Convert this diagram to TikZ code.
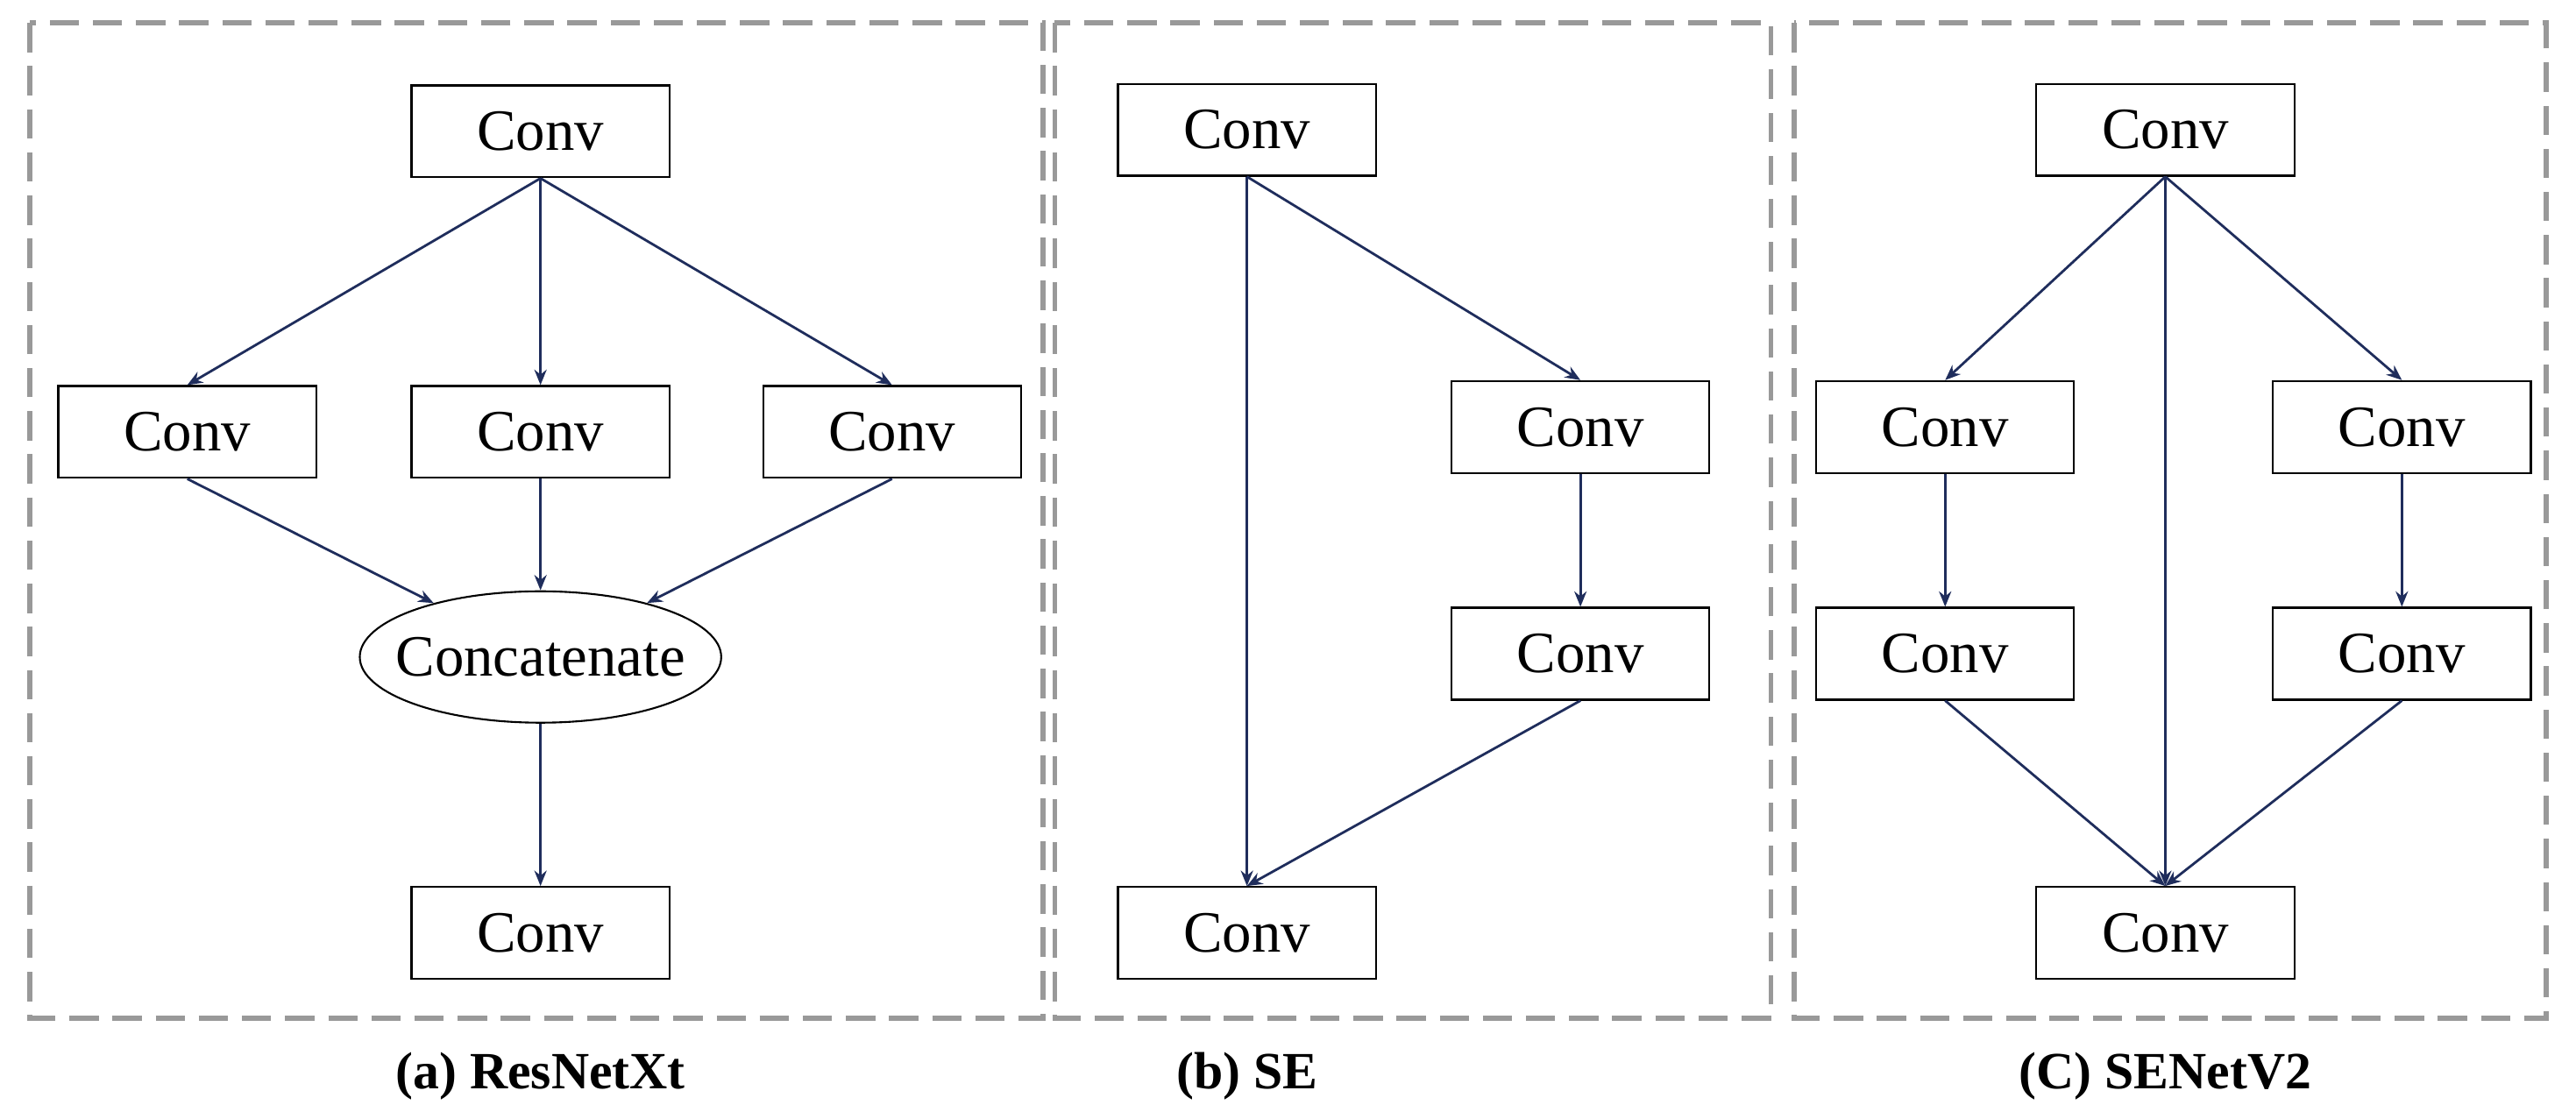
\documentclass[tikz,border=0pt]{standalone}
\usepackage{fontspec}
\setmainfont{Liberation Serif}
\usetikzlibrary{arrows.meta,shapes.geometric}
\definecolor{ln}{HTML}{1F2D5C}
\begin{document}
\begin{tikzpicture}[x=0.01874cm,y=-0.01874cm,
 box/.style={draw=black,line width=0.6pt,minimum width=157*0.01874cm,minimum height=56*0.01874cm,inner sep=0pt,font=\fontsize{19}{20}\selectfont},
 el/.style={draw=black,line width=0.6pt,ellipse,minimum width=220*0.01874cm,minimum height=80*0.01874cm,inner sep=0pt,font=\fontsize{19}{20}\selectfont},
 ar/.style={draw=ln,line width=0.8pt,-{Stealth[length=5pt,width=4pt]}},
 panel/.style={draw=black!40,line width=1.6pt,dash pattern=on 9.5pt off 4.5pt},
 lab/.style={font=\bfseries\fontsize{17}{18}\selectfont}]
\useasboundingbox (0,0) rectangle (1568,681);
\draw[panel] (18,14) rectangle (635,620);
\draw[panel] (642,14) rectangle (1078,620);
\draw[panel] (1092,14) rectangle (1550,620);
% (a)
\node[box] (a0) at (329,80) {Conv};
\node[box] (a1) at (114,263) {Conv};
\node[box] (a2) at (329,263) {Conv};
\node[box] (a3) at (543,263) {Conv};
\node[el,text width=0pt,align=center] (ac) at (329,400) {};
\node[font=\fontsize{19}{20}\selectfont] (act) at (ac.center) {Concatenate};
\node[box] (a4) at (329,568) {Conv};
\foreach \n in {a1,a2,a3} \draw[ar] (a0.south) -- (\n.north);
\foreach \n in {a1,a2,a3} \draw[ar] (\n.south) -- (ac);
\draw[ar] (ac.south) -- (a4.north);
% (b)
\node[box] (b0) at (759,79) {Conv};
\node[box] (b1) at (962,260) {Conv};
\node[box] (b2) at (962,398) {Conv};
\node[box] (b3) at (759,568) {Conv};
\draw[ar] (b0.south) -- (b3.north);
\draw[ar] (b0.south) -- (b1.north);
\draw[ar] (b1.south) -- (b2.north);
\draw[ar] (b2.south) -- (b3.north);
% (c)
\node[box] (c0) at (1318,79) {Conv};
\node[box] (c1) at (1184,260) {Conv};
\node[box] (c2) at (1462,260) {Conv};
\node[box] (c3) at (1184,398) {Conv};
\node[box] (c4) at (1462,398) {Conv};
\node[box] (c5) at (1318,568) {Conv};
\draw[ar] (c0.south) -- (c1.north);
\draw[ar] (c0.south) -- (c2.north);
\draw[ar] (c0.south) -- (c5.north);
\draw[ar] (c1.south) -- (c3.north);
\draw[ar] (c2.south) -- (c4.north);
\draw[ar] (c3.south) -- (c5.north);
\draw[ar] (c4.south) -- (c5.north);
\node[lab] (la) at (329,655) {(a) ResNetXt};
\node[lab] (lb) at (759,655) {(b) SE};
\node[lab] (lc) at (1318,655) {(C) SENetV2};
\end{tikzpicture}
\end{document}
